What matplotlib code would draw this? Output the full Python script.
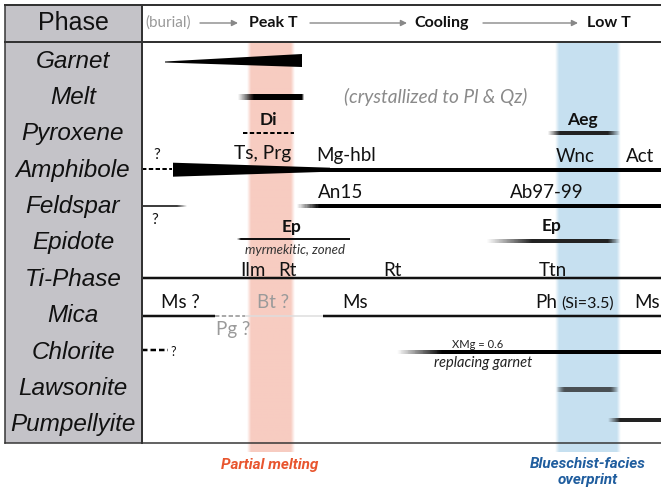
import numpy as np
import matplotlib
matplotlib.use("Agg")
import matplotlib.pyplot as plt
from matplotlib.collections import LineCollection
from matplotlib.patches import Polygon, Rectangle

# ---------------- data ----------------
phases = ['Garnet', 'Melt', 'Pyroxene', 'Amphibole', 'Feldspar', 'Epidote',
          'Ti-Phase', 'Mica', 'Chlorite', 'Lawsonite', 'Pumpellyite']
stages = ['(burial)', 'Peak T', 'Cooling', 'Low T']
stage_x = [168, 273, 442, 609]          # progress position of each stage label

# stability bars (progress units: table runs 142 -> 661)
bar_phase = ['Melt', 'Pyroxene', 'Pyroxene', 'Amphibole', 'Amphibole', 'Feldspar', 'Feldspar',
             'Epidote', 'Epidote', 'Ti-Phase', 'Mica', 'Mica', 'Mica', 'Mica',
             'Chlorite', 'Chlorite', 'Lawsonite', 'Pumpellyite']
bar_start = [238, 243, 548, 142, 300, 142, 297, 237, 487, 142, 142, 215, 245, 323, 142, 397, 556, 608]
bar_end   = [304, 294, 620, 172, 661, 187, 661, 350, 620, 661, 215, 245, 323, 661, 168, 661, 618, 661]

# wedges (growth/decline): phase, thin end, thick end
wedge_phase = ['Garnet', 'Amphibole']
wedge_thin = [165, 330]
wedge_thick = [302, 173]

# reaction intervals (shaded bands)
band_names = ['Partial melting', 'Blueschist-facies\noverprint']
band_start = [247, 555]
band_end = [295, 621]

# ---------------- styles ----------------
# (linewidth px, fade_left px, fade_right px, kind, color, dy)
bar_style = [
    (6, 16, 2, 'solid', 'k', 0),
    (2, 0, 0, 'dash', 'k', -1),
    (4, 12, 12, 'solid', '#222', -1),
    (2, 0, 0, 'dash', 'k', -1),
    (4, 0, 0, 'solid', 'k', 0),
    (1.5, 0, 10, 'solid', 'k', -1),
    (4, 22, 0, 'solid', 'k', -1),
    (2, 4, 0, 'solid', '#111', -4),
    (4, 45, 12, 'solid', '#222', -2),
    (2.5, 0, 0, 'solid', '#111', -1),
    (2.5, 0, 0, 'solid', '#111', 0),
    (2, 0, 0, 'dash', '#aaaaaa', 0),
    (1.5, 0, 0, 'solid', '#dddddd', 0),
    (2.5, 0, 0, 'solid', '#111', 0),
    (2.5, 0, 0, 'dash', 'k', -2),
    (4, 45, 0, 'solid', 'k', 0),
    (5, 8, 8, 'solid', '#222', 0),
    (4, 12, 0, 'solid', '#222', -5),
]
band_colors = [(0.97, 0.80, 0.76), (0.78, 0.88, 0.945)]
band_text_colors = ['#e8552e', '#1f5d9e']

ROW0, ROWH = 61.0, 36.4
X0, X1 = 142, 661
TOP, HEAD, BOT = 5, 42, 443
PX = 72.0 / 100.0  # px -> points


def ypos(ph):
    return ROW0 + ROWH * phases.index(ph)


fig = plt.figure(figsize=(6.61, 4.87), dpi=100)
ax = fig.add_axes([0, 0, 1, 1])
ax.set_xlim(0, 661)
ax.set_ylim(487, 0)
ax.axis('off')

sans = ['Liberation Sans', 'DejaVu Sans']
gill = ['Lato', 'DejaVu Sans']

# gray phase column
ax.add_patch(Rectangle((5, TOP), X0 - 5, BOT - TOP, facecolor='#c4c3c8', edgecolor='none', zorder=0))

# bands
for s, e, c in zip(band_start, band_end, band_colors):
    w = e - s
    xs = np.linspace(0, w, 200)
    edge = 4.0
    a = np.clip(np.minimum(xs / edge, (w - xs) / edge), 0, 1)
    img = np.zeros((2, len(xs), 4))
    img[..., 0], img[..., 1], img[..., 2] = c
    img[..., 3] = a
    ax.imshow(img, extent=(s, e, 452, HEAD + 1), aspect='auto', zorder=1, interpolation='bilinear')

# frame lines
lc = '#333333'
ax.plot([5, 661], [TOP, TOP], color=lc, lw=2 * PX, zorder=5)
ax.plot([5, 661], [HEAD, HEAD], color=lc, lw=2 * PX, zorder=5)
ax.plot([5, 661], [BOT, BOT], color=lc, lw=1.5 * PX, zorder=5)
ax.plot([5, 5], [TOP, BOT], color=lc, lw=1.5 * PX, zorder=5)
ax.plot([X0, X0], [TOP, BOT], color=lc, lw=2 * PX, zorder=5)

# header
ax.text(73, 23, 'Phase', ha='center', va='center', fontsize=18, family=sans, color='#111')
for name, x in zip(stages, stage_x):
    if name.startswith('('):
        ax.text(x, 23, name, ha='center', va='center', fontsize=11, family=gill, color='#999999')
    else:
        ax.text(x, 23, name, ha='center', va='center', fontsize=11.5, family=gill,
                weight='bold', color='#111')
arrow_segs = [(200, 238), (310, 407), (483, 578)]
for a0, a1 in arrow_segs:
    ax.annotate('', xy=(a1, 23), xytext=(a0, 23),
                arrowprops=dict(arrowstyle='-|>', color='#888888', lw=1.0,
                                mutation_scale=9, shrinkA=0, shrinkB=0), zorder=4)

# phase labels
for i, ph in enumerate(phases):
    ax.text(73, ROW0 + ROWH * i, ph, ha='center', va='center', fontsize=17.5,
            style='italic', family=sans, color='#111')


def grad_line(x0, x1, y, lw, fl, fr, color, n=300):
    xs = np.linspace(x0, x1, n + 1)
    segs = [[(xs[k], y), (xs[k + 1], y)] for k in range(n)]
    xm = 0.5 * (xs[:-1] + xs[1:])
    a = np.ones(n)
    if fl > 0:
        a = np.minimum(a, (xm - x0) / fl)
    if fr > 0:
        a = np.minimum(a, (x1 - xm) / fr)
    a = np.clip(a, 0, 1)
    rgba = np.array([matplotlib.colors.to_rgba(color)] * n)
    rgba[:, 3] = a
    ax.add_collection(LineCollection(segs, colors=rgba, linewidths=lw * PX, capstyle='butt', zorder=3))


for ph, s, e, st in zip(bar_phase, bar_start, bar_end, bar_style):
    lw, fl, fr, kind, col, dy = st
    y = ypos(ph) + dy
    if kind == 'dash':
        ax.plot([s, e], [y, y], color=col, lw=lw * PX, dashes=(2.2, 1.2), solid_capstyle='butt', zorder=3)
    else:
        grad_line(s, e, y, lw, fl, fr, col)

# wedges
for ph, thin, thick in zip(wedge_phase, wedge_thin, wedge_thick):
    y = ypos(ph)
    if ph == 'Garnet':
        pts = [(thin, y + 0.5), (thick, y - 7), (thick, y + 6), (thin, y + 1.5)]
    else:
        y = y - 0.5
        pts = [(thick, y - 7), (thick, y + 7), (thin, y + 2), (thin, y - 2)]
    ax.add_patch(Polygon(pts, closed=True, facecolor='k', edgecolor='none', zorder=3))

# annotations: (text, x, y, size, weight, style, color)
notes = [
    ('Di', 268, 120, 12.5, 'bold', 'normal', '#111'),
    ('Aeg', 582, 120, 12.5, 'bold', 'normal', '#111'),
    ('(crystallized to Pl & Qz)', 436, 97, 13.8, 'normal', 'italic', '#8a8a8a'),
    ('?', 157, 155, 11, 'normal', 'normal', '#111'),
    ('Ts, Prg', 263, 154, 13.8, 'normal', 'normal', '#111'),
    ('Mg-hbl', 346, 155, 13.5, 'normal', 'normal', '#111'),
    ('Wnc', 575, 157, 13.5, 'normal', 'normal', '#111'),
    ('Act', 640, 157, 13.5, 'normal', 'normal', '#111'),
    ('An15', 341, 193, 13.5, 'normal', 'normal', '#111'),
    ('Ab97-99', 547, 193, 13.5, 'normal', 'normal', '#111'),
    ('?', 155, 220, 11, 'normal', 'normal', '#111'),
    ('Ep', 292, 227, 12.5, 'bold', 'normal', '#111'),
    ('myrmekitic, zoned', 295, 250, 9.5, 'normal', 'italic', '#333'),
    ('Ep', 552, 226, 12.5, 'bold', 'normal', '#111'),
    ('Ilm', 253, 270, 13.5, 'normal', 'normal', '#111'),
    ('Rt', 287, 270, 13.5, 'normal', 'normal', '#111'),
    ('Rt', 392, 270, 13.5, 'normal', 'normal', '#111'),
    ('Ttn', 553, 270, 13.5, 'normal', 'normal', '#111'),
    ('Ms ?', 180, 303, 13.5, 'normal', 'normal', '#111'),
    ('Bt ?', 273, 303, 13.5, 'normal', 'normal', '#9a9a9a'),
    ('Ms', 355, 303, 13.5, 'normal', 'normal', '#111'),
    ('Ph', 546, 303, 13.5, 'normal', 'normal', '#111'),
    ('(Si=3.5)', 588, 304, 11.5, 'normal', 'normal', '#111'),
    ('Ms', 647, 303, 13.5, 'normal', 'normal', '#111'),
    ('Pg ?', 233, 330, 13.5, 'normal', 'normal', '#9a9a9a'),
    ('?', 173, 352, 9, 'normal', 'normal', '#111'),
    ('XMg = 0.6', 478, 344, 8, 'normal', 'normal', '#222'),
    ('replacing garnet', 483, 363, 10.5, 'normal', 'italic', '#222'),
]
for t, x, y, sz, wt, stl, col in notes:
    ax.text(x, y, t, ha='center', va='center', fontsize=sz, weight=wt, style=stl,
            family=gill, color=col, zorder=4)

# band labels
band_label_xy = [(270, 465), (588, 472)]
for name, (x, y), col in zip(band_names, band_label_xy, band_text_colors):
    ax.text(x, y, name, ha='center', va='center', fontsize=11, weight='bold', style='italic',
            family=['Roboto', 'DejaVu Sans'], color=col, linespacing=1.1)

fig.savefig('out.png', dpi=100)
